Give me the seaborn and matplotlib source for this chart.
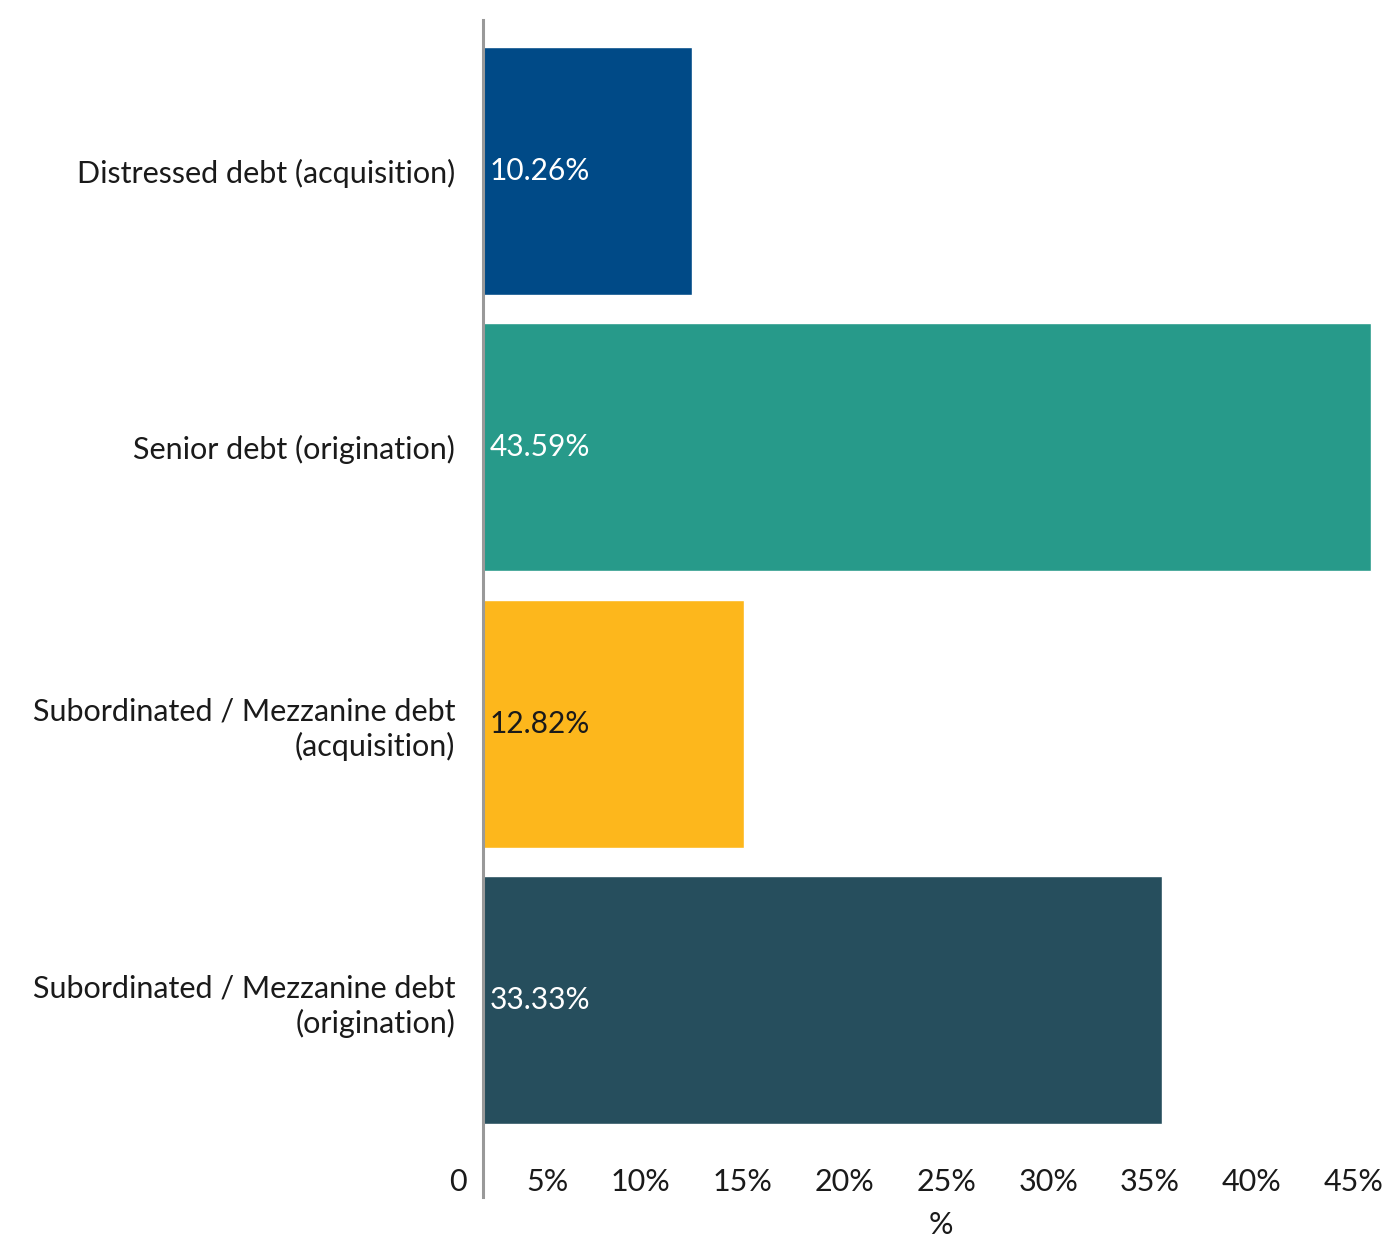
import matplotlib
matplotlib.use("Agg")
import matplotlib.pyplot as plt
import matplotlib.transforms as mtransforms
import seaborn as sns
import pandas as pd

categories = [
    "Distressed debt (acquisition)",
    "Senior debt (origination)",
    "Subordinated / Mezzanine debt\n(acquisition)",
    "Subordinated / Mezzanine debt\n(origination)",
]
values = [10.26, 43.59, 12.82, 33.33]
colors = ["#004a87", "#279a8a", "#fdb71c", "#264e5d"]
label_colors = ["white", "white", "#1a1a1a", "white"]
xticks = [0, 5, 10, 15, 20, 25, 30, 35, 40, 45]
xticklabels = ["0", "5%", "10%", "15%", "20%", "25%", "30%", "35%", "40%", "45%"]

sns.set_theme(style="white")
plt.rcParams["font.family"] = ["Lato", "DejaVu Sans"]

df = pd.DataFrame({"cat": categories, "val": values})

FS = 22
W, H = 1391, 1237
fig = plt.figure(figsize=(W / 100, H / 100), dpi=100)
left = 483 / W
right_px = 483 + 45 * 20.37
ax = fig.add_axes([left, 1 - 1197 / H, (right_px - 483) / W, (1197 - 20) / H])

sns.barplot(data=df, y="cat", x="val", hue="cat", palette=colors, legend=False,
            orient="h", width=0.897, saturation=1, ax=ax)

ax.set_xlim(0, 45)
ax.set_ylim(3.712, -0.546)
for s in ["top", "right", "bottom"]:
    ax.spines[s].set_visible(False)
ax.spines["left"].set_color("#999999")
ax.spines["left"].set_linewidth(2.2)

ax.set_xticks(xticks)
ax.set_xticklabels(xticklabels, fontsize=FS, color="#1a1a1a")
ax.tick_params(axis="x", length=0, pad=-21)
offset = mtransforms.ScaledTranslation(-16 / 100, 0, fig.dpi_scale_trans)
for lbl in ax.get_xticklabels():
    lbl.set_horizontalalignment("right")
    lbl.set_transform(lbl.get_transform() + offset)

ax.tick_params(axis="y", length=0, pad=20)
ax.set_yticks(range(len(categories)))
ax.set_yticklabels(categories, fontsize=FS, color="#1a1a1a", linespacing=1.27)
ax.set_ylabel("")
ax.set_xlabel("%", fontsize=FS, color="#1a1a1a", labelpad=10)

for i, (v, c) in enumerate(zip(values, label_colors)):
    ax.annotate(f"{v:.2f}%", xy=(0, i), xytext=(7, 0), textcoords="offset pixels",
                ha="left", va="center", fontsize=21.5, color=c)

fig.savefig("out.png", dpi=100)
